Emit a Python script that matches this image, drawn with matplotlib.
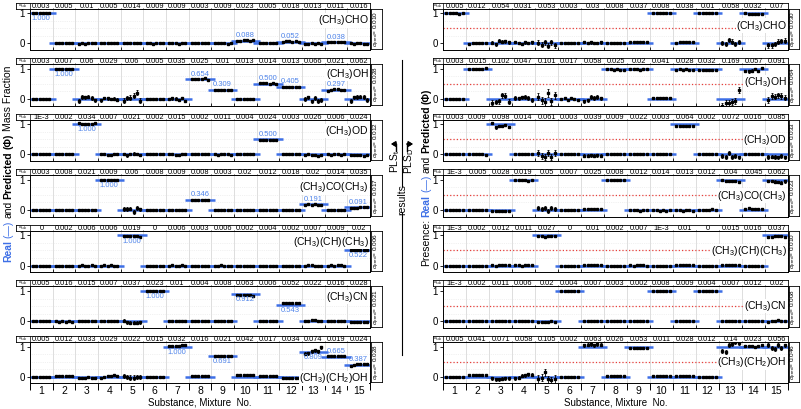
import matplotlib
matplotlib.use("Agg")
import matplotlib.pyplot as plt
from matplotlib.lines import Line2D
import numpy as np

plt.rcParams['font.family'] = ['Liberation Sans', 'DejaVu Sans']
plt.rcParams['mathtext.fontset'] = 'custom'
plt.rcParams['mathtext.rm'] = 'Liberation Sans'
plt.rcParams['mathtext.it'] = 'Liberation Sans:italic'
plt.rcParams['mathtext.bf'] = 'Liberation Sans:bold'

W, H = 801, 409

SUBSTANCES = ["(CH$_3$)CHO", "(CH$_3$)OH", "(CH$_3$)OD", "(CH$_3$)CO(CH$_3$)",
              "(CH$_3$)(CH)(CH$_3$)", "(CH$_3$)CN", "(CH$_3$)(CH$_2$)OH"]
MIXTURES = list(range(1, 16))

# real mass fraction of each substance (rows) in each mixture (columns)
REAL = [
    [1, 0, 0, 0, 0, 0, 0, 0, 0, 0.088, 0, 0.052, 0, 0.038, 0],
    [0, 1, 0, 0, 0, 0, 0, 0.654, 0.309, 0, 0.500, 0.405, 0, 0.297, 0],
    [0, 0, 1, 0, 0, 0, 0, 0, 0, 0, 0.500, 0, 0, 0, 0],
    [0, 0, 0, 1, 0, 0, 0, 0.346, 0, 0, 0, 0, 0.191, 0, 0.091],
    [0, 0, 0, 0, 1, 0, 0, 0, 0, 0, 0, 0, 0, 0, 0.522],
    [0, 0, 0, 0, 0, 1, 0, 0, 0, 0.912, 0, 0.543, 0, 0, 0],
    [0, 0, 0, 0, 0, 0, 1, 0, 0.691, 0, 0, 0, 0.809, 0.665, 0.387],
]
# presence: substance is in the mixture or not
PRESENCE = [[1 if v > 0 else 0 for v in row] for row in REAL]

# predicted replicates (6 per mixture), as deviation from the real value in hundredths
DEV_LEFT = [
    "0 0 0 0 0 0/0 0 0 0 0 0/-1 0 -1 0 0 0/0 1 0 0 1 0/1 2 1 2 1 0/0 0 -1 0 0 0/0 0 0 -1 0 0/0 0 0 0 0 0/0 0 0 0 -1 0/-1 0 1 1 0 1/0 0 0 0 0 0/0 1 1 0 1 -1/-2 -1 0 -2 0 -1/1 1 0 1 2 1/0 -1 0 0 -1 -1",
    "0 0 0 0 0 0/0 0 0 0 0 0/-7 6 5 8 3 -5/-5 4 2 0 1 -2/-6 3 4 10 20 -6/0 0 0 0 0 0/0 2 1 -3 3 -6/0 1 2 1 3 -2/-1 -2 0 -1 0 -1/0 0 0 0 0 0/3 3 2 1 2 1/-1 -1 -1 0 -1 -1/-1 5 -8 3 -6 -4/-3 1 2 2 1 -1/-6 5 7 8 6 -3",
    "0 0 0 0 0 0/0 0 0 0 0 0/3 1 1 2 1 4/0 0 -1 -1 0 0/2 -3 2 3 1 -1/0 0 0 0 0 0/0 0 -1 -1 0 1/0 0 0 0 0 0/0 -1 0 0 1 -1/0 0 0 0 0 0/-2 -3 -2 -2 -3 -2/0 0 0 0 0 0/-1 0 -2 -2 -4 -1/0 -1 0 0 -1 0/-2 -1 -3 -2 -4 -2",
    "0 0 0 0 0 0/0 -1 0 0 -1 0/0 1 1 -1 0 -1/0 0 0 0 0 0/3 3 5 -6 7 2/0 0 0 0 1 0/0 0 0 0 0 0/0 -1 0 -1 0 0/0 0 0 0 0 0/-1 -1 -1 -1 -1 -1/-1 -1 0 -1 0 0/0 0 1 1 1 0/-1 0 -1 0 -1 -2/0 1 0 1 1 1/-2 -1 -1 0 1 2",
    "0 0 0 0 0 0/0 0 0 0 0 0/0 1 0 0 1 0/0 1 0 1 0 0/-3 -2 -3 -2 -1 -4/0 0 0 0 0 0/0 1 0 0 1 0/0 0 0 0 0 0/0 0 1 0 0 0/0 0 0 0 0 0/0 0 0 0 0 0/0 0 0 0 0 0/0 1 1 0 0 0/0 1 0 1 1 0/-1 -1 0 0 1 0",
    "0 0 0 0 0 0/-1 -2 -1 -2 -1 -2/1 1 -1 0 1 0/0 0 0 0 0 0/2 -4 -6 -5 -6 -3/0 0 0 0 0 0/-1 0 0 0 0 0/0 0 0 0 0 0/0 0 0 0 0 0/-6 -6 -6 -6 -6 -7/-1 0 -1 0 -1 0/5 5 5 5 6 5/1 2 3 3 1 2/1 1 1 0 1 2/-3 -3 -2 -3 -2 -3",
    "0 0 0 0 0 0/1 1 1 1 1 1/-3 -4 -3 -2 -3 -4/-3 -2 1 3 4 3/2 -2 -3 -3 -2 -1/-1 -1 -1 -2 -2 -2/3 2 2 3 4 5/1 2 1 1 2 2/-2 -2 -2 -2 -2 -2/4 4 4 4 4 4/2 1 2 1 2 1/-3 -3 -4 -3 -3 -4/-5 -3 4 6 3 17/1 2 2 1 2 2/-2 1 2 3 3 3",
]
DEV_RIGHT = [
    "0 1 0 0 -1 0/-1 1 1 1 2 1/2 -3 8 5 7 3/4 1 -2 3 2 3/2 -5 4 -8 3 -6/0 0 0 0 0 0/4 1 3 2 2 3/1 1 0 1 1 0/3 4 3 4 4 4/1 0 0 1 0 1/1 3 5 3 4 3/0 1 1 1 1 1/2 -3 10 6 -2 5/1 -2 -4 -2 -3 -4/-7 -6 -2 5 8 9",
    "0 0 0 0 0 0/-2 -1 -2 -1 -1 1/-12 -10 -8 12 10 -9/3 2 5 7 4 -3/8 -4 -10 20 -8 12/-1 2 -2 2 1 -2/-8 -5 7 4 6 2/-2 -1 -3 -2 -3 -3/-2 -1 -2 -3 -2 -1/4 4 4 4 4 4/-3 -2 -3 -2 -3 -3/-3 -3 -3 -3 -4 -3/-22 -15 -12 -10 -8 28/-8 -9 -6 -1 -7 2/-4 10 8 12 9 4",
    "0 0 0 0 0 0/1 0 1 0 1 -1/4 -10 -5 -6 -3 -8/1 2 1 2 1 1/5 -4 -8 6 -7 6/0 0 0 0 0 0/-5 -4 -3 -4 -3 -4/1 1 1 0 1 1/2 3 2 2 1 2/0 0 0 0 0 0/-6 -7 -6 -7 -6 -6/0 0 0 0 0 0/-5 -8 4 -9 -6 -10/1 2 1 2 1 1/-9 -7 -8 -10 -6 -10",
    "0 0 0 0 0 0/0 0 0 -1 0 -1/-2 -3 -2 -3 -4 -3/0 -1 -2 -2 -3 -2/7 3 6 -4 6 3/0 1 1 0 1 0/2 3 2 3 2 2/-1 0 -1 -1 0 -1/-1 -1 -1 -2 -1 -1/-1 -1 -2 -1 -2 -1/-1 -1 -2 -1 -1 -2/1 1 1 1 2 1/-2 -3 -4 -5 -4 -6/3 6 4 5 4 5/-4 -3 -6 -8 -9 -5",
    "0 0 0 0 0 0/0 0 0 0 0 0/1 0 1 1 2 1/1 1 0 1 1 1/-3 -2 -4 -3 -2 -3/0 0 0 0 0 0/1 1 1 1 1 1/0 0 0 0 0 0/1 0 1 1 1 0/0 0 0 0 0 0/1 1 1 1 1 1/0 0 0 0 0 0/2 2 1 1 1 1/-1 -2 -1 -2 -2 -2/-5 -4 -3 -2 -1 -5",
    "0 0 0 0 0 0/0 0 0 0 0 0/1 1 0 1 1 0/0 1 0 1 0 0/-2 -2 -3 -2 -1 -2/0 0 0 0 0 0/0 1 0 1 1 0/0 0 0 0 0 0/0 0 0 0 0 0/0 -1 0 -1 -1 0/1 1 1 1 0 1/0 0 0 0 0 0/1 0 1 0 1 0/0 1 1 0 1 1/-2 1 2 3 2 1",
    "0 0 0 0 0 0/4 4 4 4 4 4/-6 -9 -8 -7 -5 -6/-6 -4 3 4 8 7/-8 -3 15 -9 -12 -8/0 0 0 0 0 0/5 6 7 5 8 6/2 3 2 2 3 3/-5 -6 -5 -5 -6 -5/1 1 1 1 1 1/2 3 3 3 2 3/-1 -1 -1 -1 -1 -2/-15 -18 5 10 15 12/3 1 2 -2 1 4/6 -5 -8 5 -4 4",
]

# error bar half length per mixture, hundredths
ERR_LEFT = [
    "1 1 2 1 2 1 1 1 1 1 1 1 2 1 2",
    "1 1 6 4 8 1 4 2 1 1 1 1 6 2 6",
    "1 1 2 1 4 1 2 1 1 1 1 1 3 1 3",
    "1 1 2 1 6 1 1 1 1 1 1 1 2 1 3",
    "1 1 1 1 2 1 1 1 1 1 1 1 1 1 2",
    "1 1 2 1 5 1 1 1 1 2 1 2 2 1 4",
    "1 1 3 3 7 1 3 1 1 1 1 1 5 1 3",
]
ERR_RIGHT = [
    "1 1 5 4 8 1 4 1 1 1 1 1 7 2 8",
    "1 2 8 6 12 2 6 2 2 2 2 2 10 4 9",
    "1 1 4 3 10 1 5 1 1 1 1 1 6 2 6",
    "1 1 2 2 6 1 2 1 1 1 1 1 3 2 4",
    "1 1 1 1 2 1 1 1 1 1 1 1 1 1 2",
    "1 1 1 1 2 1 1 1 1 1 1 1 1 1 2",
    "1 1 5 5 12 1 5 2 2 1 2 1 8 2 6",
]

SIG_LEFT = [
    "0.003 0.005 0.01 0.005 0.014 0.009 0.009 0.003 0.009 0.023 0.005 0.018 0.013 0.011 0.016",
    "0.003 0.007 0.06 0.029 0.06 0.005 0.035 0.025 0.01 0.013 0.014 0.013 0.066 0.021 0.062",
    "1E-3 0.002 0.034 0.007 0.021 0.002 0.015 0.002 0.011 0.004 0.024 0.003 0.026 0.006 0.024",
    "0.003 0.008 0.021 0.009 0.06 0.008 0.009 0.008 0.003 0.02 0.012 0.018 0.02 0.014 0.035",
    "0 0.002 0.006 0.006 0.019 0 0.006 0.003 0.006 0.002 0.004 0.002 0.007 0.009 0.02",
    "0.005 0.016 0.015 0.007 0.037 0.023 0.01 0.004 0.008 0.063 0.006 0.052 0.022 0.016 0.028",
    "0.005 0.012 0.033 0.029 0.022 0.015 0.032 0.016 0.021 0.042 0.017 0.034 0.074 0.019 0.024",
]
SIG_RIGHT = [
    "0.005 0.012 0.054 0.031 0.053 0.003 0.03 0.008 0.037 0.008 0.038 0.01 0.058 0.032 0.07",
    "0.003 0.015 0.102 0.047 0.101 0.017 0.058 0.025 0.02 0.041 0.028 0.032 0.169 0.057 0.091",
    "0.003 0.009 0.098 0.014 0.061 0.003 0.039 0.009 0.022 0.003 0.064 0.002 0.072 0.016 0.085",
    "1E-3 0.005 0.028 0.019 0.05 0.007 0.025 0.008 0.012 0.014 0.013 0.012 0.04 0.045 0.062",
    "1E-3 0.002 0.012 0.011 0.027 0 0.01 0.002 0.007 1E-3 0.01 0 0.015 0.016 0.037",
    "1E-3 0.002 0.011 0.006 0.02 0.004 0.007 0.003 0.002 0.008 0.009 0.004 0.007 0.012 0.02",
    "0.005 0.041 0.071 0.058 0.105 0.002 0.063 0.026 0.053 0.011 0.028 0.012 0.14 0.023 0.056",
]
SIGPRED_LEFT = ["0.010", "0.028", "0.012", "0.017", "0.006", "0.021", "0.028"]
SIGPRED_RIGHT = ["0.030", "0.064", "0.033", "0.023", "0.010", "0.008", "0.046"]

# height (data units) of the substance name in each row
NAME_Y_LEFT = [0.77, 0.84, 0.78, 0.75, 0.78, 0.80, -0.06]
NAME_Y_RIGHT = [0.58, 0.56, 0.48, 0.47, 0.48, 0.50, 0.48]
# (row, mixture) value labels drawn above the line although value >= 0.5
ABOVE = {(1, 8), (1, 11), (2, 11), (6, 14)}

BLUE = "#3d6fe6"
BLUE_TXT = "#4f84ea"


def parse_dev(rows):
    return [[[int(t) / 100 for t in g.split()] for g in r.split("/")] for r in rows]


def parse_err(rows):
    return [[int(t) / 100 for t in r.split()] for r in rows]


fig = plt.figure(figsize=(W / 100, H / 100), dpi=100)


def px_axes(x0, y0, x1, y1):
    return fig.add_axes([x0 / W, 1 - y1 / H, (x1 - x0) / W, (y1 - y0) / H])


panels = [
    dict(x0=30, x1=370, sx0=16, p1=382, real=REAL, dev=parse_dev(DEV_LEFT),
         err=parse_err(ERR_LEFT), sig=SIG_LEFT, sp=SIGPRED_LEFT, name_y=NAME_Y_LEFT, left=True),
    dict(x0=443, x1=788, sx0=433, p1=799, real=PRESENCE, dev=parse_dev(DEV_RIGHT),
         err=parse_err(ERR_RIGHT), sig=SIG_RIGHT, sp=SIGPRED_RIGHT, name_y=NAME_Y_RIGHT, left=False),
]

offs = np.linspace(-0.36, 0.36, 6)
bounds = np.arange(0.5, 16, 1)

for p in panels:
    cw = (p["x1"] - p["x0"]) / 15
    for k in range(7):
        top = 2.7 + 55.55 * k
        sbot = top + 6
        pbot = top + 47.3

        # sigma strip on top
        st = px_axes(p["sx0"], top, p["x1"], sbot)
        st.set_xlim(0.5 - (p["x0"] - p["sx0"]) / cw, 15.5)
        st.set_ylim(0, 1)
        st.set_yticks([])
        st.set_xticks(bounds[1:-1])
        st.tick_params(axis="x", direction="in", length=1.0, width=0.5, labelbottom=False)
        st.axvline(0.5, color="black", lw=0.5)
        for sp_ in st.spines.values():
            sp_.set_linewidth(0.6)
        st.text((st.get_xlim()[0] + 0.5) / 2, 0.45, r"$\sigma_{\rm sub}$", fontsize=3.2,
                ha="center", va="center")
        for i, s in enumerate(p["sig"][k].split()):
            st.text(MIXTURES[i], 0.45, s, fontsize=5.3, ha="center", va="center")

        # sigma_pred strip on the right
        sr = px_axes(p["x1"] + 1, sbot, p["p1"], pbot - 1)
        sr.set_xticks([])
        sr.set_yticks([])
        for sp_ in sr.spines.values():
            sp_.set_linewidth(0.6)
        sr.text(0.5, 0.5, r"$\sigma_{\rm pred}$= " + p["sp"][k], rotation=90, fontsize=4.6,
                ha="center", va="center", transform=sr.transAxes)

        ax = px_axes(p["x0"], sbot, p["x1"], pbot)
        ax.set_xlim(0.5, 15.5)
        ax.set_ylim(-0.22, 1.15)
        for b in bounds[1:-1]:
            ax.axvline(b, color="#d8d8d8", lw=0.6, zorder=0)
        for g in (0.25, 0.5, 0.75):
            ax.axhline(g, color="#e4e4e4", lw=0.5, ls=":", zorder=0)
        if not p["left"]:
            ax.axhline(0.5, color="#e8403c", lw=0.9, ls=":", zorder=1)

        real = p["real"][k]
        for i, v in enumerate(real):
            x = MIXTURES[i]
            ax.hlines(v, x - 0.65, x + 0.65, color=BLUE, lw=1.8, zorder=2)
            if p["left"] and v > 0:
                below = v >= 0.5 and (k, x) not in ABOVE
                if below:
                    ax.text(x, v - 0.07, f"{v:.3f}", fontsize=5.5, color=BLUE_TXT,
                            ha="center", va="top", zorder=6)
                else:
                    ax.text(x, v + 0.05, f"{v:.3f}", fontsize=5.5, color=BLUE_TXT,
                            ha="center", va="bottom", zorder=6)
            ys = [v + d for d in p["dev"][k][i]]
            ax.errorbar(x + offs, ys, yerr=p["err"][k][i], fmt="s", ms=1.9, color="black",
                        elinewidth=0.6, capsize=1.0, capthick=0.6, zorder=3)

        ax.text(15.45, p["name_y"][k], SUBSTANCES[k], fontsize=7.5, ha="right",
                va="center", zorder=5,
                bbox=dict(facecolor="white", edgecolor="none", pad=0.3))

        ax.set_yticks([0, 1])
        ax.set_yticklabels(["0", "1"])
        ax.tick_params(axis="y", length=2.5, width=0.6, labelsize=7, pad=1)
        ax.set_xticks(bounds)
        ax.set_xticklabels([])
        for sp_ in ax.spines.values():
            sp_.set_linewidth(0.7)
        if k < 6:
            ax.tick_params(axis="x", direction="in", length=2, width=0.6)
        else:
            ax.tick_params(axis="x", direction="out", length=5, width=0.7)
            ax.set_xticks(MIXTURES, minor=True)
            ax.set_xticklabels([str(m) for m in MIXTURES], minor=True)
            ax.tick_params(axis="x", which="minor", length=0, labelsize=7.5, pad=2)
            ax.set_xlabel("Substance, Mixture  No.", fontsize=7, labelpad=1)

renderer = fig.canvas.get_renderer()


def stacked_label(x, ybottom, pieces, fontsize):
    # pieces placed one after another, reading bottom to top
    y = H - ybottom
    for txt, color, weight in pieces:
        t = fig.text(x / W, y / H, txt, rotation=90, ha="center", va="bottom",
                     fontsize=fontsize, color=color, fontweight=weight)
        ext = t.get_window_extent(renderer)
        y += ext.height + 2.2


stacked_label(8, 262, [("Real", BLUE, "bold"), ("(—)", BLUE, "normal"), ("and", "black", "normal"),
                       ("Predicted", "black", "bold"), ("(Φ)", "black", "bold"),
                       ("Mass Fraction", "black", "normal")], 7.5)
stacked_label(426, 266, [("Presence:", "black", "normal"), ("Real", BLUE, "bold"),
                         ("(—)", BLUE, "normal"), ("and", "black", "normal"),
                         ("Predicted", "black", "bold"), ("(Φ)", "black", "bold")], 7.5)

# centre separator: results - PLS_t / PLS_D
fig.add_artist(Line2D([402 / W, 402 / W], [1 - 60 / H, 1 - 186 / H], color="black", lw=0.8))
fig.add_artist(Line2D([402 / W, 402 / W], [1 - 213 / H, 1 - 355 / H], color="black", lw=0.8))
fig.text(402 / W, 1 - 199.5 / H, "results", rotation=90, ha="center", va="center", fontsize=7.5)
fig.text(395 / W, 1 - 161 / H, r"PLS$_{\rm t}$", rotation=90, ha="center", va="center", fontsize=7.5)
fig.text(409 / W, 1 - 161 / H, r"PLS$_{\rm D}$", rotation=90, ha="center", va="center", fontsize=7.5)
for xs, xe in ((396, 391), (407, 413)):
    fig.add_artist(Line2D([xs / W, xs / W], [1 - 151 / H, 1 - 144 / H], color="black", lw=1.0))
    fig.add_artist(plt.annotate("", xy=(xe, H - 144), xytext=(xs, H - 144),
                                xycoords="figure pixels", textcoords="figure pixels",
                                arrowprops=dict(arrowstyle="-|>,head_length=0.25,head_width=0.15",
                                                color="black", lw=1.0, shrinkA=0, shrinkB=0)))

fig.savefig("out.png", dpi=100)
